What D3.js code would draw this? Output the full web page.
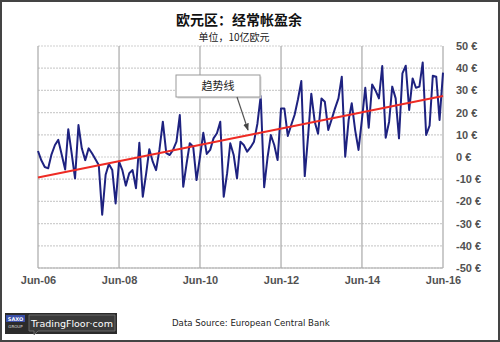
<!DOCTYPE html>
<html>
<head>
<meta charset="utf-8">
<script src="https://cdn.jsdelivr.net/npm/d3@7/dist/d3.min.js"></script>
<style>
  html, body { margin: 0; padding: 0; background: #fff; }
  svg { display: block; }
</style>
</head>
<body>
<script>
// Euro area current account balance, monthly, EUR bn (Jun-06 .. Jun-16)
const startMonth = "2006-06";
const balance = [
  2.7, -1.5, -4.5, -5.1, 1.2, 5.4, 7.7, 1.0, -5.6, 12.5,
  1.5, -9.6, 14.4, 3.9, -1.4, 3.9, 1.7, -1.0, -3.6, -26,
  -8.0, -3.2, -5.9, -20.9, -2.1, -5.9, -12.9, -7.3, -5.9, -14.1,
  6.4, -17.9, -7.3, 3.5, -2.1, -5.9, 3.5, 15.9, 1.7, 0.9,
  3.2, 6.9, 18.9, -13.4, -2.8, 6.2, 4.6, -10.4, 0.1, 10.9,
  1.4, 3.2, 8.4, 10.7, 15.9, -17.9, -7.3, 6.2, 0.9, -9.6,
  6.9, 5.4, 2.4, 4.4, 6.9, 15.0, 27.5, -13.6, 0.0, 9.9,
  5.4, -1.4, 21.9, 21.9, 9.5, 14.4, 18.9, 26.0, 34.2, -8.6,
  10.0, 28.5, 15.9, 10.5, 26.4, 24.9, 12.2, 17.0, 21.9, 26.4,
  36.2, 0.1, 16.7, 24.2, 12.0, 3.2, 17.0, 31.2, 13.2, 32.7,
  30.0, 26.4, 41.0, 8.7, 15.9, 31.7, 26.4, 8.4, 37.7, 41.1,
  21.2, 35.4, 31.2, 31.7, 42.6, 9.9, 14.1, 36.6, 36.2, 16.7,
  38.0
];
// Linear trend: value at first and last month
const trendEnds = [-9.2, 27.5];
const xTickLabels = ["Jun-06", "Jun-08", "Jun-10", "Jun-12", "Jun-14", "Jun-16"];
const yTicks = [-50, -40, -30, -20, -10, 0, 10, 20, 30, 40, 50];

const titleText = "欧元区：经常帐盈余";
const subtitleText = "单位，10亿欧元";
const trendLabel = "趋势线";
const sourceText = "Data Source: European Central Bank";

const W = 500, H = 342;
const plot = { left: 38, right: 443, top: 46, bottom: 268 };

const parseMonth = d3.timeParse("%Y-%m");
const parseTick = d3.timeParse("%b-%y");
const t0 = parseMonth(startMonth);
const series = balance.map((v, i) => ({ date: d3.timeMonth.offset(t0, i), value: v }));
const tickDates = xTickLabels.map(parseTick);

const x = d3.scaleTime()
  .domain([tickDates[0], tickDates[tickDates.length - 1]])
  .range([plot.left, plot.right]);
const y = d3.scaleLinear().domain([-50, 50]).range([plot.bottom, plot.top]);

const svg = d3.select("body").append("svg")
  .attr("width", W).attr("height", H);

svg.append("rect").attr("width", W).attr("height", H).attr("fill", "#fff");

svg.append("defs").append("marker")
  .attr("id", "arrowhead")
  .attr("viewBox", "0 0 10 10")
  .attr("refX", 9).attr("refY", 5)
  .attr("markerWidth", 6).attr("markerHeight", 6)
  .attr("orient", "auto")
  .append("path").attr("d", "M0,1 L10,5 L0,9 Z").attr("fill", "#444");

// Horizontal grid
svg.append("g")
  .selectAll("line").data(yTicks).join("line")
  .attr("x1", plot.left).attr("x2", plot.right)
  .attr("y1", d => y(d)).attr("y2", d => y(d))
  .attr("stroke", "#cfcfcf").attr("stroke-width", 1.2)
  .attr("stroke-dasharray", "2,1");

// Vertical grid at tick dates
svg.append("g")
  .selectAll("line").data(tickDates).join("line")
  .attr("x1", d => x(d)).attr("x2", d => x(d))
  .attr("y1", plot.top).attr("y2", plot.bottom)
  .attr("stroke", "#a8a8a8").attr("stroke-width", 1.2);

// Plot frame bottom
svg.append("line")
  .attr("x1", plot.left).attr("x2", plot.right)
  .attr("y1", plot.bottom).attr("y2", plot.bottom)
  .attr("stroke", "#a8a8a8").attr("stroke-width", 1.2);

// Right value axis
const yAxis = d3.axisRight(y).tickValues(yTicks).tickSize(0).tickPadding(13)
  .tickFormat(d => d + " €");
const gy = svg.append("g").attr("transform", `translate(${plot.right},0)`).call(yAxis);
gy.select(".domain").remove();
gy.selectAll("text")
  .attr("font-family", "'Liberation Sans', Arial, sans-serif")
  .attr("font-size", 11).attr("fill", "#333").attr("font-weight", "bold")
  .attr("opacity", 0.85);

// Bottom date axis
const xAxis = d3.axisBottom(x).tickValues(tickDates).tickSize(0).tickPadding(8)
  .tickFormat((d, i) => xTickLabels[i]);
const gx = svg.append("g").attr("transform", `translate(0,${plot.bottom})`).call(xAxis);
gx.select(".domain").remove();
gx.selectAll("text")
  .attr("font-family", "'Liberation Sans', Arial, sans-serif")
  .attr("font-size", 11).attr("fill", "#333").attr("font-weight", "bold")
  .attr("opacity", 0.85);

// Monthly balance line
const line = d3.line().x(d => x(d.date)).y(d => y(d.value));
svg.append("path").datum(series)
  .attr("d", line)
  .attr("fill", "none")
  .attr("stroke", "#1e2280").attr("stroke-width", 2)
  .attr("stroke-linejoin", "round");

// Trend line
const trend = [
  { date: series[0].date, value: trendEnds[0] },
  { date: series[series.length - 1].date, value: trendEnds[1] }
];
svg.append("path").datum(trend)
  .attr("d", line)
  .attr("fill", "none")
  .attr("stroke", "#ee2b24").attr("stroke-width", 2);

// Trend callout
const box = { x: 176, y: 75, w: 84, h: 22 };
svg.append("rect")
  .attr("x", box.x + 1.5).attr("y", box.y + 1.5)
  .attr("width", box.w).attr("height", box.h)
  .attr("fill", "#d8d8d8");
svg.append("rect")
  .attr("x", box.x).attr("y", box.y)
  .attr("width", box.w).attr("height", box.h)
  .attr("fill", "#fff").attr("stroke", "#9a9a9a").attr("stroke-width", 1);
svg.append("text")
  .attr("x", box.x + box.w / 2).attr("y", box.y + 15)
  .attr("text-anchor", "middle")
  .attr("font-family", "'Noto Sans CJK SC', sans-serif")
  .attr("font-size", 11).attr("fill", "#222")
  .text(trendLabel);
svg.append("line")
  .attr("x1", 237).attr("y1", box.y + box.h)
  .attr("x2", 248).attr("y2", 130)
  .attr("stroke", "#555").attr("stroke-width", 1.2)
  .attr("marker-end", "url(#arrowhead)");

// Titles
svg.append("text")
  .attr("x", 239).attr("y", 25)
  .attr("text-anchor", "middle")
  .attr("font-family", "'Noto Sans CJK SC', sans-serif")
  .attr("font-size", 14).attr("font-weight", "bold").attr("fill", "#111")
  .text(titleText);
svg.append("text")
  .attr("x", 234).attr("y", 41)
  .attr("text-anchor", "middle")
  .attr("font-family", "'Noto Sans CJK SC', sans-serif")
  .attr("font-size", 10).attr("fill", "#222")
  .text(subtitleText);

// Footer: source note
svg.append("text")
  .attr("x", 172).attr("y", 326)
  .attr("font-family", "'DejaVu Sans', sans-serif")
  .attr("font-size", 8.6).attr("fill", "#222")
  .text(sourceText);

// Footer: brand badge
const badge = svg.append("g");
badge.append("rect").attr("x", 5).attr("y", 313).attr("width", 112).attr("height", 21).attr("fill", "#2b2b2b");
badge.append("rect").attr("x", 6).attr("y", 315).attr("width", 19).attr("height", 14).attr("fill", "#3a4fa8");
badge.append("rect").attr("x", 6).attr("y", 322).attr("width", 19).attr("height", 7).attr("fill", "#2b2b2b");
badge.append("text").attr("x", 15.5).attr("y", 321).attr("text-anchor", "middle")
  .attr("font-family", "'DejaVu Sans', sans-serif").attr("font-size", 5).attr("font-weight", "bold")
  .attr("fill", "#fff").text("SAXO");
badge.append("text").attr("x", 15.5).attr("y", 327.5).attr("text-anchor", "middle")
  .attr("font-family", "'DejaVu Sans', sans-serif").attr("font-size", 4).attr("fill", "#ddd").text("GROUP");
badge.append("path")
  .attr("d", "M29,315 H115 V331 H38 L34,335 L34,331 H29 Z")
  .attr("fill", "#3a3a3a").attr("stroke", "#777").attr("stroke-width", 0.8);
badge.append("text").attr("x", 72).attr("y", 326.5).attr("text-anchor", "middle")
  .attr("font-family", "'DejaVu Sans', sans-serif").attr("font-size", 9.5)
  .attr("fill", "#fff").text("TradingFloor·com");

// Outer border
svg.append("rect")
  .attr("x", 1).attr("y", 1).attr("width", W - 2).attr("height", H - 2)
  .attr("fill", "none").attr("stroke", "#444").attr("stroke-width", 2);
</script>
</body>
</html>
